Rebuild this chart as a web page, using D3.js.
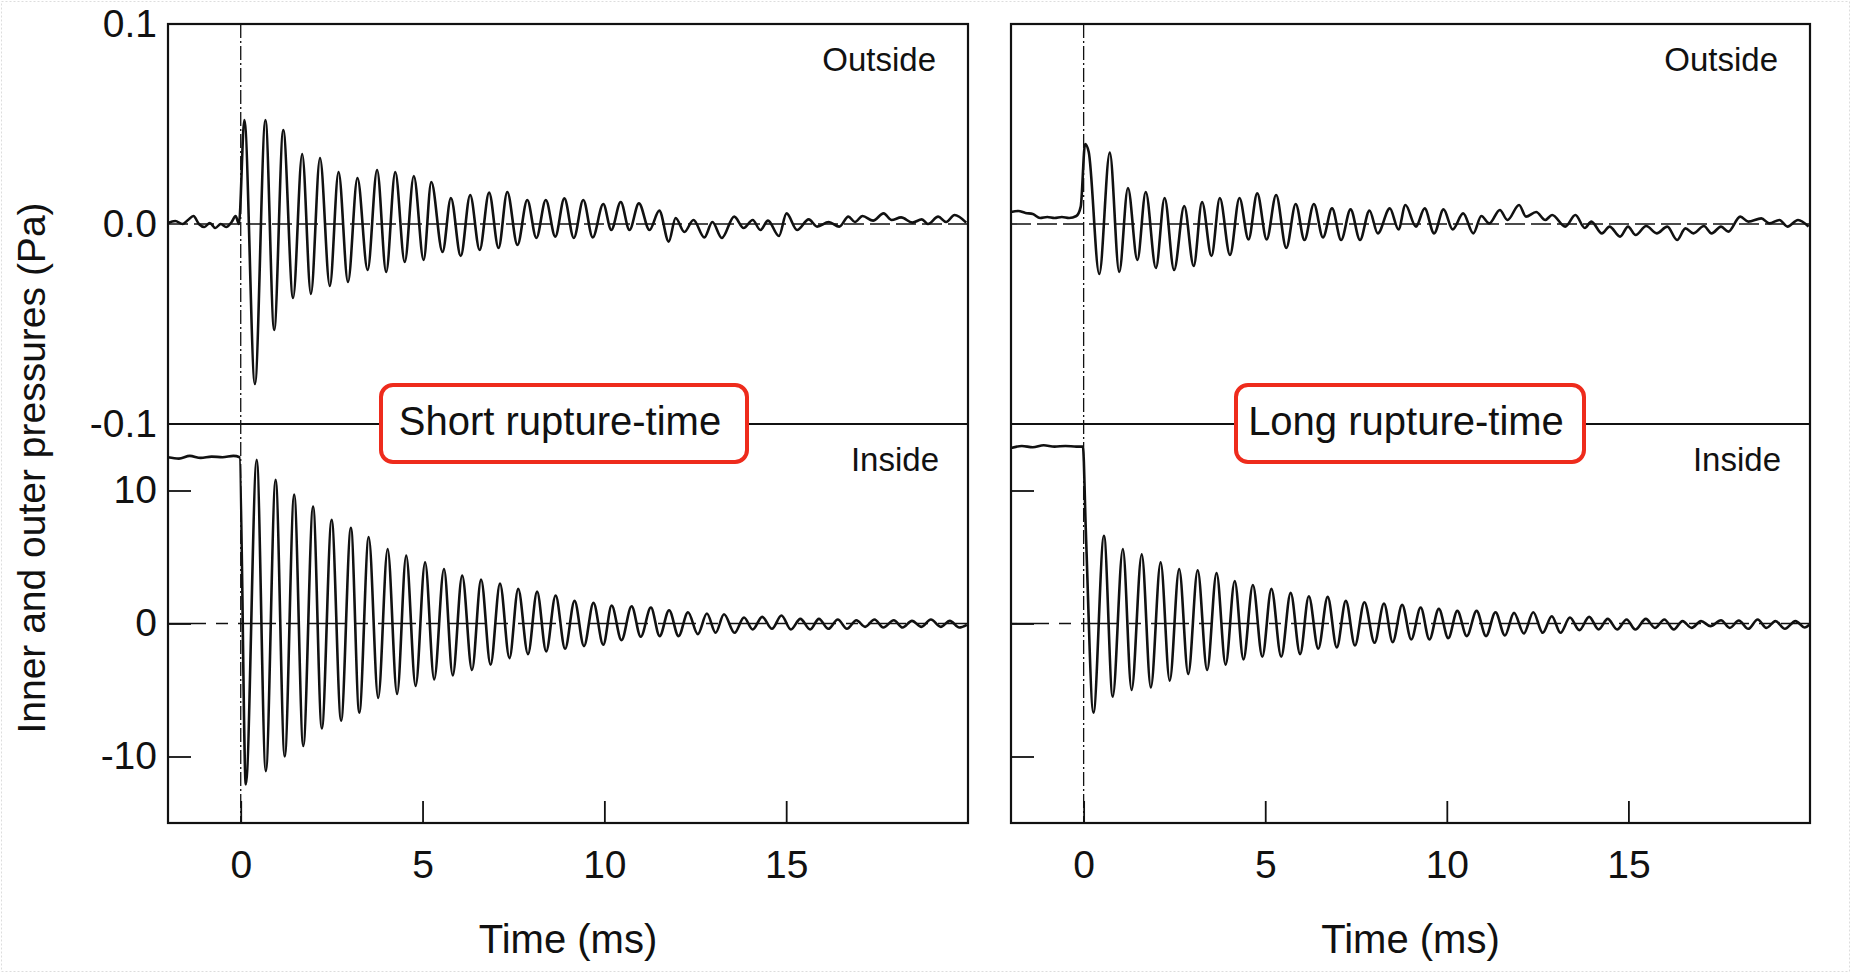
<!DOCTYPE html>
<html>
<head>
<meta charset="utf-8">
<script src="https://cdn.jsdelivr.net/npm/d3@7"></script>
<style>
  body { margin: 0; background: #fff; }
  svg { font-family: Arial, "Liberation Sans", sans-serif; }
</style>
</head>
<body>
<script>
// time axis (ms) and tick values
const timeTicks = [0, 5, 10, 15];
const outsideTicks = [-0.1, 0, 0.1];
const insideTicks = [-10, 0, 10];

// extrema: [time ms, pressure Pa]
const shortOutside = [
  [-2.0, 0.0005], [-1.8, 0.0015], [-1.6, 0.0], [-1.45, 0.002], [-1.3, 0.004], [-1.15, 0.0], [-1.0, -0.0015],
  [-0.85, 0.0005], [-0.7, -0.002], [-0.55, 0.0], [-0.4, -0.0015], [-0.25, 0.001], [-0.14, 0.004], [-0.05, 0.0],
  [0.1, 0.052], [0.39, -0.080], [0.68, 0.052], [0.92, -0.053], [1.17, 0.047], [1.44, -0.037], [1.69, 0.035],
  [1.93, -0.035], [2.18, 0.033], [2.45, -0.031], [2.69, 0.026], [2.95, -0.029], [3.21, 0.023], [3.49, -0.023],
  [3.75, 0.027], [4.0, -0.024], [4.25, 0.026], [4.51, -0.019], [4.76, 0.024], [5.03, -0.018], [5.24, 0.021],
  [5.55, -0.014], [5.78, 0.013], [6.05, -0.016], [6.31, 0.0145], [6.57, -0.013], [6.83, 0.0157], [7.09, -0.012],
  [7.33, 0.016], [7.61, -0.0105], [7.88, 0.012], [8.13, -0.007], [8.39, 0.012], [8.65, -0.0063], [8.9, 0.0128],
  [9.16, -0.007], [9.42, 0.012], [9.68, -0.0067], [9.97, 0.010], [10.19, -0.003], [10.45, 0.011], [10.69, -0.003],
  [10.95, 0.0103], [11.24, -0.003], [11.51, 0.0067], [11.77, -0.0088], [11.96, 0.003], [12.2, -0.004],
  [12.45, 0.002], [12.75, -0.0067], [12.97, 0.001], [13.23, -0.007], [13.57, 0.0037], [13.83, -0.002],
  [14.08, 0.002], [14.29, -0.003], [14.5, 0.0017], [14.8, -0.006], [15.01, 0.0053], [15.3, -0.003],
  [15.62, 0.0023], [15.85, -0.0013], [16.17, 0.001], [16.46, -0.0013], [16.71, 0.0037], [16.89, 0.001],
  [17.1, 0.004], [17.39, 0.0017], [17.68, 0.0053], [17.9, 0.002], [18.16, 0.0033], [18.47, 0.0007],
  [18.73, 0.0023], [18.9, 0.0], [19.18, 0.0037], [19.4, 0.001], [19.63, 0.0045], [19.95, 0.0007]
];

const shortInside = [
  [-2.0, 12.5], [-1.7, 12.4], [-1.4, 12.6], [-1.1, 12.45], [-0.8, 12.55], [-0.5, 12.5], [-0.2, 12.6], [-0.03, 12.5],
  [0.14, -12.1], [0.44, 12.3], [0.69, -11.1], [0.96, 10.8], [1.21, -10.0], [1.47, 9.7], [1.72, -9.2], [1.99, 8.8],
  [2.23, -7.9], [2.5, 7.8], [2.76, -7.3], [3.03, 7.2], [3.26, -6.7], [3.52, 6.5], [3.78, -5.6], [4.04, 5.6],
  [4.3, -5.3], [4.55, 5.1], [4.81, -4.7], [5.07, 4.6], [5.32, -4.2], [5.59, 4.1], [5.83, -3.9], [6.09, 3.6],
  [6.36, -3.5], [6.61, 3.3], [6.87, -3.1], [7.13, 3.0], [7.39, -2.6], [7.63, 2.6], [7.9, -2.3], [8.15, 2.4],
  [8.4, -2.1], [8.66, 2.1], [8.92, -1.9], [9.18, 1.7], [9.44, -1.7], [9.7, 1.55], [9.97, -1.6], [10.2, 1.35],
  [10.47, -1.25], [10.75, 1.3], [11.0, -1.0], [11.28, 1.2], [11.52, -0.95], [11.78, 1.0], [12.04, -0.95],
  [12.3, 0.85], [12.57, -0.8], [12.82, 0.75], [13.06, -0.7], [13.29, 0.7], [13.58, -0.7], [13.84, 0.45],
  [14.08, -0.45], [14.34, 0.5], [14.61, -0.4], [14.87, 0.6], [15.13, -0.45], [15.39, 0.35], [15.66, -0.45],
  [15.9, 0.35], [16.16, -0.4], [16.42, 0.3], [16.67, -0.4], [16.93, 0.25], [17.17, -0.25], [17.43, 0.3],
  [17.67, -0.3], [17.96, 0.25], [18.2, -0.3], [18.46, 0.2], [18.72, -0.25], [18.98, 0.3], [19.25, -0.25],
  [19.5, 0.2], [19.76, -0.3], [19.97, -0.1]
];

const longOutside = [
  [-2.0, 0.006], [-1.8, 0.0065], [-1.6, 0.0055], [-1.4, 0.005], [-1.2, 0.003], [-1.0, 0.0035], [-0.8, 0.003],
  [-0.6, 0.0035], [-0.4, 0.003], [-0.2, 0.004], [-0.08, 0.0087], [0.04, 0.040], [0.14, 0.036], [0.43, -0.025],
  [0.72, 0.0357], [0.98, -0.024], [1.22, 0.018], [1.48, -0.018], [1.71, 0.016], [1.99, -0.022], [2.23, 0.013],
  [2.49, -0.023], [2.77, 0.009], [3.03, -0.021], [3.26, 0.011], [3.52, -0.016], [3.75, 0.013], [4.03, -0.0155],
  [4.29, 0.013], [4.54, -0.0077], [4.78, 0.0153], [5.04, -0.0077], [5.3, 0.0145], [5.58, -0.012], [5.84, 0.010],
  [6.08, -0.008], [6.34, 0.010], [6.59, -0.0067], [6.84, 0.0078], [7.09, -0.008], [7.35, 0.0073], [7.61, -0.008],
  [7.87, 0.0067], [8.1, -0.0047], [8.43, 0.0078], [8.67, -0.0027], [8.86, 0.0095], [9.15, -0.0013], [9.39, 0.0078],
  [9.65, -0.0047], [9.91, 0.0073], [10.16, -0.0027], [10.45, 0.0053], [10.73, -0.0047], [10.95, 0.004],
  [11.17, 0.0003], [11.46, 0.007], [11.67, 0.002], [11.99, 0.0095], [12.18, 0.0037], [12.46, 0.006],
  [12.71, 0.002], [12.9, 0.0045], [13.26, -0.0013], [13.54, 0.0045], [13.8, -0.002], [13.98, 0.0012],
  [14.27, -0.0047], [14.48, -0.0013], [14.77, -0.0063], [14.99, -0.0013], [15.2, -0.0055], [15.49, -0.001],
  [15.78, -0.0047], [16.07, -0.0013], [16.34, -0.008], [16.57, -0.0022], [16.79, -0.0047], [17.08, -0.001],
  [17.29, -0.0047], [17.55, -0.0013], [17.75, -0.0038], [18.08, 0.0037], [18.3, 0.0012], [18.66, 0.0028],
  [18.88, 0.0003], [19.16, 0.002], [19.38, -0.0013], [19.67, 0.002], [19.96, -0.0013]
];

const longInside = [
  [-2.0, 13.2], [-1.7, 13.35], [-1.4, 13.25], [-1.1, 13.4], [-0.8, 13.3], [-0.5, 13.35], [-0.2, 13.3], [-0.02, 13.3],
  [0.06, 7.0], [0.27, -6.7], [0.56, 6.6], [0.8, -5.5], [1.08, 5.6], [1.32, -5.0], [1.6, 5.2], [1.85, -4.8],
  [2.12, 4.6], [2.37, -4.3], [2.63, 4.1], [2.88, -3.8], [3.14, 4.0], [3.4, -3.5], [3.66, 3.8], [3.91, -3.1],
  [4.16, 3.2], [4.4, -2.7], [4.66, 2.9], [4.92, -2.5], [5.17, 2.6], [5.44, -2.5], [5.7, 2.3], [5.96, -2.3],
  [6.2, 2.05], [6.46, -1.9], [6.72, 2.0], [6.97, -1.8], [7.22, 1.7], [7.47, -1.65], [7.73, 1.6], [8.01, -1.45],
  [8.27, 1.5], [8.51, -1.4], [8.77, 1.4], [9.02, -1.2], [9.28, 1.2], [9.52, -1.2], [9.78, 1.1], [10.04, -1.1],
  [10.29, 0.95], [10.55, -0.95], [10.82, 0.95], [11.08, -0.95], [11.34, 0.85], [11.6, -0.9], [11.85, 0.8],
  [12.12, -0.75], [12.38, 0.85], [12.64, -0.7], [12.89, 0.55], [13.13, -0.7], [13.39, 0.45], [13.65, -0.5],
  [13.92, 0.5], [14.18, -0.45], [14.43, 0.35], [14.69, -0.45], [14.95, 0.3], [15.19, -0.45], [15.48, 0.35],
  [15.73, -0.33], [15.99, 0.3], [16.25, -0.45], [16.49, 0.18], [16.74, -0.33], [17.0, 0.18], [17.26, -0.2],
  [17.55, 0.25], [17.79, -0.33], [18.04, 0.22], [18.3, -0.4], [18.56, 0.3], [18.8, -0.33], [19.05, 0.18],
  [19.31, -0.4], [19.6, 0.18], [19.86, -0.3], [19.98, -0.1]
];

const width = 1851, height = 973;
const top0 = 24, mid = 424, bot = 823;
const ink = '#111';

const svg = d3.select('body').append('svg')
  .attr('width', width)
  .attr('height', height);

// faint dotted page frame
svg.append('rect')
  .attr('x', 1.5).attr('y', 1.5)
  .attr('width', width - 3).attr('height', height - 3)
  .attr('fill', 'none')
  .attr('stroke', '#ddd')
  .attr('stroke-dasharray', '2,2');

const panels = [
  { x0: 168, x1: 968, title: 'Short rupture-time', outside: shortOutside, inside: shortInside, labels: true, box: [381, 747] },
  { x0: 1011, x1: 1810, title: 'Long rupture-time', outside: longOutside, inside: longInside, labels: false, box: [1236, 1584] }
];

panels.forEach(p => {
  const x = d3.scaleLinear().domain([-2, 20]).range([p.x0, p.x1]);
  const yOut = d3.scaleLinear().domain([-0.1, 0.1]).range([mid, top0]);
  const yIn = d3.scaleLinear().domain([-15, 15]).range([bot, mid]);

  const g = svg.append('g');

  // zero reference lines
  g.append('line')
    .attr('x1', p.x0).attr('x2', p.x1)
    .attr('y1', yOut(0)).attr('y2', yOut(0))
    .attr('stroke', ink).attr('stroke-width', 1.6)
    .attr('stroke-dasharray', '20,6');
  g.append('line')
    .attr('x1', p.x0).attr('x2', p.x1)
    .attr('y1', yIn(0)).attr('y2', yIn(0))
    .attr('stroke', ink).attr('stroke-width', 1.6)
    .attr('stroke-dasharray', '38,10,12,10');

  // rupture instant
  g.append('line')
    .attr('x1', x(0)).attr('x2', x(0))
    .attr('y1', top0).attr('y2', bot)
    .attr('stroke', ink).attr('stroke-width', 1.3)
    .attr('stroke-dasharray', '14,3,2,3');

  const lineOut = d3.line().x(d => x(d[0])).y(d => yOut(d[1])).curve(d3.curveMonotoneX);
  const lineIn = d3.line().x(d => x(d[0])).y(d => yIn(d[1])).curve(d3.curveMonotoneX);

  g.append('path')
    .datum(p.outside)
    .attr('d', lineOut)
    .attr('fill', 'none')
    .attr('stroke', ink)
    .attr('stroke-width', 2.6)
    .attr('stroke-linejoin', 'round');

  g.append('path')
    .datum(p.inside)
    .attr('d', lineIn)
    .attr('fill', 'none')
    .attr('stroke', ink)
    .attr('stroke-width', 2.6)
    .attr('stroke-linejoin', 'round');

  // axes
  const axOut = d3.axisLeft(yOut)
    .tickValues(outsideTicks)
    .tickSize(0)
    .tickPadding(11)
    .tickFormat(d => p.labels ? d.toFixed(1) : '');
  g.append('g')
    .attr('transform', `translate(${p.x0},0)`)
    .call(axOut)
    .call(a => a.select('.domain').remove())
    .call(a => a.selectAll('text').attr('font-size', 39).attr('fill', ink).attr('font-family', null));

  const axIn = d3.axisLeft(yIn)
    .tickValues(insideTicks)
    .tickSizeInner(-23)
    .tickSizeOuter(0)
    .tickPadding(11)
    .tickFormat(d => p.labels ? String(d) : '');
  g.append('g')
    .attr('transform', `translate(${p.x0},0)`)
    .call(axIn)
    .call(a => a.select('.domain').remove())
    .call(a => a.selectAll('line').attr('stroke', ink).attr('stroke-width', 1.8))
    .call(a => a.selectAll('text').attr('font-size', 39).attr('fill', ink).attr('font-family', null));

  const axX = d3.axisBottom(x)
    .tickValues(timeTicks)
    .tickSizeInner(-22)
    .tickSizeOuter(0)
    .tickPadding(27);
  g.append('g')
    .attr('transform', `translate(0,${bot})`)
    .call(axX)
    .call(a => a.select('.domain').remove())
    .call(a => a.selectAll('line').attr('stroke', ink).attr('stroke-width', 1.8))
    .call(a => a.selectAll('text').attr('font-size', 39).attr('fill', ink).attr('font-family', null));

  // frames
  g.append('rect')
    .attr('x', p.x0).attr('y', top0)
    .attr('width', p.x1 - p.x0).attr('height', bot - top0)
    .attr('fill', 'none').attr('stroke', ink).attr('stroke-width', 2.2);
  g.append('line')
    .attr('x1', p.x0).attr('x2', p.x1)
    .attr('y1', mid).attr('y2', mid)
    .attr('stroke', ink).attr('stroke-width', 2.2);

  // panel tags
  g.append('text')
    .attr('x', p.x1 - 32).attr('y', 71)
    .attr('text-anchor', 'end')
    .attr('font-size', 33)
    .attr('fill', ink)
    .text('Outside');
  g.append('text')
    .attr('x', p.x1 - 29).attr('y', 471)
    .attr('text-anchor', 'end')
    .attr('font-size', 33)
    .attr('fill', ink)
    .text('Inside');

  // red title box
  g.append('rect')
    .attr('x', p.box[0]).attr('y', 385)
    .attr('width', p.box[1] - p.box[0]).attr('height', 77)
    .attr('rx', 12)
    .attr('fill', '#fff')
    .attr('stroke', '#ee2b1c')
    .attr('stroke-width', 4);
  g.append('text')
    .attr('x', (p.box[0] + p.box[1]) / 2 - 4).attr('y', 435)
    .attr('text-anchor', 'middle')
    .attr('font-size', 40)
    .attr('fill', ink)
    .text(p.title);

  // x title
  g.append('text')
    .attr('x', (p.x0 + p.x1) / 2).attr('y', 953)
    .attr('text-anchor', 'middle')
    .attr('font-size', 40)
    .attr('fill', ink)
    .text('Time (ms)');
});

// y title
svg.append('text')
  .attr('transform', 'translate(45,468) rotate(-90)')
  .attr('text-anchor', 'middle')
  .attr('font-size', 39)
  .attr('fill', ink)
  .text('Inner and outer pressures (Pa)');
</script>
</body>
</html>
